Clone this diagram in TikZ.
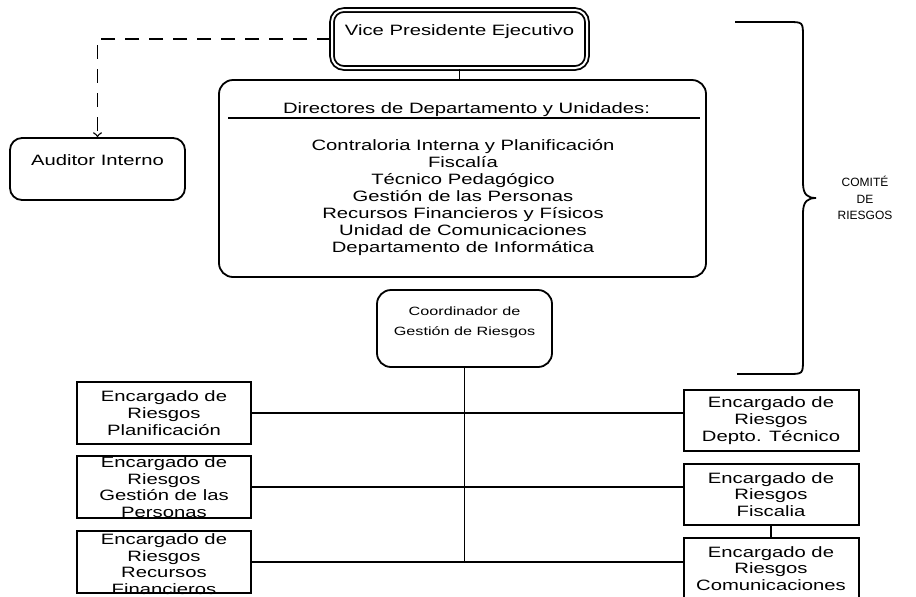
\documentclass[tikz,border=0pt]{standalone}
\usepackage{fontspec}
\setmainfont{Liberation Sans}[FakeStretch=1.35]
\newfontfamily\plainsans{Liberation Sans}
\usetikzlibrary{positioning}

\begin{document}
\begin{tikzpicture}[x=0.5pt,y=-0.5pt,line width=0.7pt,
	every node/.append style={font=\fontsize{7.5}{8.5}\selectfont},
	rbox/.style={draw,line width=0.9pt,rounded corners=6pt,align=center,inner sep=0pt},
	ebox/.style={draw,line width=1pt,minimum width=87pt,minimum height=31pt,inner sep=0pt},
	etext/.style={align=center,font=\fontsize{7.5}{8.35}\selectfont}]
	\useasboundingbox (0,0) rectangle (916,596);

	\node[rbox,double,double distance=1pt,minimum width=127.5pt,minimum height=29pt] (vp) at (459.5,39) {Vice Presidente Ejecutivo\\ \mbox{}};
	\node[rbox,rounded corners=7pt,minimum width=243.5pt,minimum height=98.5pt] (dir) at (462.5,178.5) {};
	\node (dirtitle) at (466.5,110) {Directores de Departamento y Unidades:};
	\draw (228,118) -- (700,118);
	\node[align=center] (dirlist) at (463,197.5) {Contraloria Interna y Planificación\\Fiscalía\\Técnico Pedagógico\\Gestión de las Personas\\Recursos Financieros y Físicos\\Unidad de Comunicaciones\\Departamento de Informática};
	\node[rbox,minimum width=87.5pt,minimum height=31pt] (aud) at (97.5,169) {Auditor Interno\\ \mbox{}};
	\node[rbox,rounded corners=7pt,minimum width=87.5pt,minimum height=38.5pt,font=\fontsize{6}{10}\selectfont] (coord) at (464.5,328.5) {Coordinador de\\Gestión de Riesgos\\[-3pt] \mbox{}};

	\node[ebox] (l1) at (164,413) {};
	\node[etext] (l1t) at (l1) {Encargado de\\Riesgos\\Planificación};
	\node[ebox] (l2) at (164,487) {};
	\node[etext] (l2t) at (l2) {Encargado de\\Riesgos\\Gestión de las\\Personas};
	\node[ebox] (l3) at (164,562) {};
	\node[etext] (l3t) at (164,564) {Encargado de\\Riesgos\\Recursos\\Financieros};

	\node[ebox,minimum width=87.5pt,minimum height=30.5pt] (r1) at (771,420.5) {};
	\node[etext] (r1t) at (r1) {Encargado de\\Riesgos\\Depto. Técnico};
	\node[ebox,minimum width=87.5pt,minimum height=30.5pt] (r2) at (771,494.5) {};
	\node[etext] (r2t) at (r2) {Encargado de\\Riesgos\\Fiscalia};
	\node[ebox,minimum width=87.5pt,minimum height=30.5pt] (r3) at (771,568.5) {};
	\node[etext] (r3t) at (r3) {Encargado de\\Riesgos\\Comunicaciones};

	\draw (vp.south) -- (vp.south |- dir.north);
	\draw[dash pattern=on 7pt off 5pt,->] (vp.west) -| (aud.north);
	\draw (coord.south) -- (coord.south |- l3.east);
	\draw (l1.east) -- (l1.east -| r1.west);
	\draw (l2.east) -- (l2.east -| r2.west);
	\draw (l3.east) -- (l3.east -| r3.west);
	\draw[line width=1.2pt] (r2.south) -- (r3.north);

	\draw[line width=0.9pt] (735,22) -- (788,22) .. controls (803,22) .. (803,37) -- (803,183)
		.. controls (803,195) and (808,198) .. (816,198)
		.. controls (808,198) and (803,201) .. (803,213) -- (803,359)
		.. controls (803,374) .. (788,374) -- (737,374);
	\node[font=\plainsans\fontsize{6}{8.25}\selectfont,align=center] (comite) at (865,198) {COMITÉ\\DE\\RIESGOS};
\end{tikzpicture}
\end{document}
